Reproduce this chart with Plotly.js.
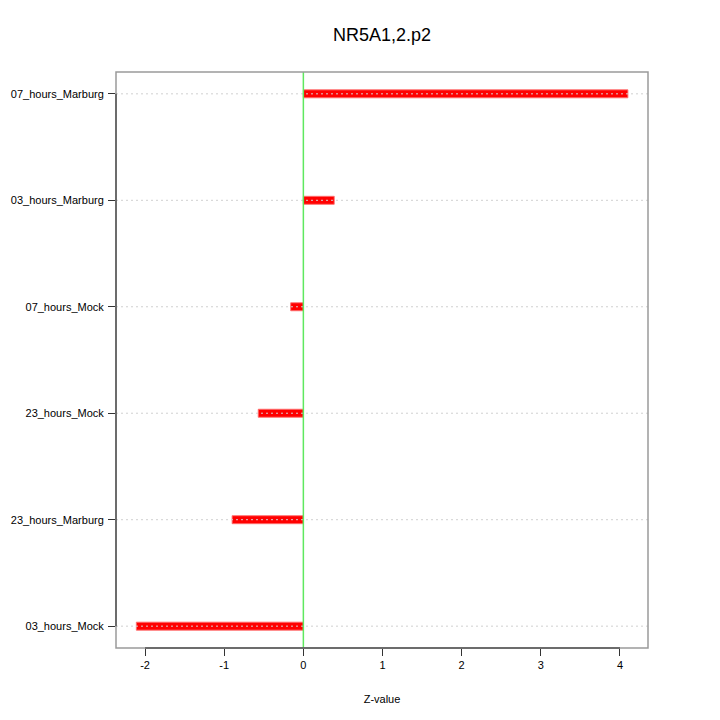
<!DOCTYPE html>
<html><head><meta charset="utf-8">
<script src="https://cdn.plot.ly/plotly-3.0.1.min.js"></script>
<style>html,body{margin:0;padding:0;background:#fff}</style>
</head><body><div id="chart" style="width:720px;height:720px"></div>
<script>
const categories = ["03_hours_Mock","23_hours_Marburg","23_hours_Mock","07_hours_Mock","03_hours_Marburg","07_hours_Marburg"];
const zValues = [-2.11, -0.90, -0.57, -0.16, 0.39, 4.10];
const xTicks = [-2, -1, 0, 1, 2, 3, 4];

const yIdx = categories.map((c,i)=>i);
const traces = [{
  type:'bar', orientation:'h', x:zValues, y:yIdx, base:0,
  width:0.075,
  marker:{color:'#ff0000', line:{color:'rgba(255,110,110,0.9)', width:1}},
  hoverinfo:'none'
}];
const shapes = [];
yIdx.forEach(i=>{
  shapes.push({type:'line', xref:'paper', x0:0, x1:1, yref:'y', y0:i, y1:i, layer:'above',
    line:{color:'#d0d0d0', width:1, dash:'2px,3px'}});
});
shapes.push({type:'line', xref:'x', x0:0, x1:0, yref:'paper', y0:0, y1:1, layer:'above',
  line:{color:'#5fe85f', width:1.5}});
shapes.push({type:'rect', xref:'paper', yref:'paper', x0:0, x1:1, y0:0, y1:1, layer:'above',
  line:{color:'#9a9a9a', width:1.5}});
shapes.push({type:'line', xref:'x', yref:'paper', x0:Math.min(...xTicks), x1:Math.max(...xTicks), y0:0, y1:0, layer:'above',
  line:{color:'#555555', width:1.5}});
shapes.push({type:'line', xref:'paper', yref:'y', x0:0, x1:0, y0:yIdx[0], y1:yIdx[yIdx.length-1], layer:'above',
  line:{color:'#555555', width:1.5}});

const layout = {
  width:720, height:720,
  margin:{l:116, r:72, t:72, b:72},
  paper_bgcolor:'#fff', plot_bgcolor:'#fff',
  font:{family:'Liberation Sans, Arial, sans-serif', size:11, color:'#000'},
  title:{text:'NR5A1,2.p2', xref:'paper', x:0.5, xanchor:'center', y:0.952, yanchor:'middle', font:{size:18}},
  showlegend:false,
  bargap:0,
  xaxis:{range:[-2.367,4.354], tickvals:xTicks, ticktext:xTicks.map(String), ticks:'outside', ticklen:7,
    tickcolor:'#333', showgrid:false, zeroline:false, showline:false,
    title:{text:'Z-value', standoff:25, font:{size:11}}, fixedrange:true},
  yaxis:{range:[-0.205,5.205], tickvals:yIdx, ticktext:categories, ticks:'outside', ticklen:7,
    tickcolor:'#333', showgrid:false, zeroline:false, showline:false,
    ticklabelstandoff:2, fixedrange:true},
  shapes:shapes
};
Plotly.newPlot('chart', traces, layout, {staticPlot:true});
</script></body></html>
